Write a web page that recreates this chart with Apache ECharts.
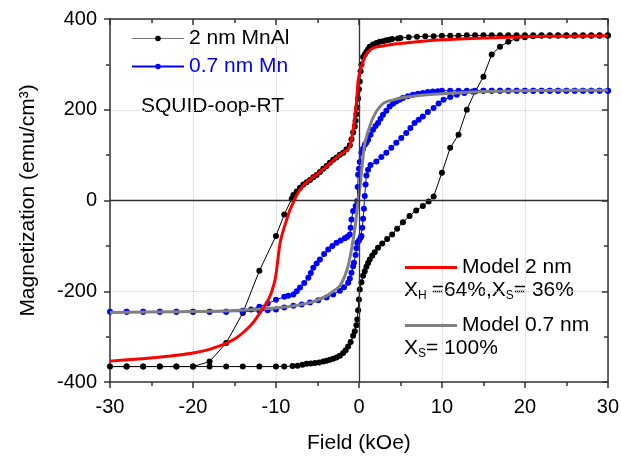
<!DOCTYPE html>
<html>
<head>
<meta charset="utf-8">
<script src="https://cdn.jsdelivr.net/npm/echarts@6/dist/echarts.min.js"></script>
<style>
  html, body { margin: 0; padding: 0; background: #fff; }
  #chart { width: 622px; height: 459px; }
</style>
</head>
<body>
<div id="chart"></div>
<script>
// Field sweeps (kOe) and magnetization (emu/cm^3)

// 2 nm MnAl, sweep from +30 down to -30
const mnalDownH = [30, 29, 28, 27, 26, 25, 24, 23, 22, 21, 20, 19, 18, 17, 16, 15, 14, 13, 12, 11, 10, 9, 8, 7, 6, 5, 4.7, 4, 3.7, 3.3, 2.9, 2.5, 2.1, 1.7, 1.3, 1.1, 0.9, 0.7, 0.5, 0.3, 0.2, 0.1, 0, -0.1, -0.2, -0.3, -0.4, -0.5, -0.7, -0.9, -1.1, -1.5, -1.9, -2.3, -2.7, -3.1, -3.5, -3.9, -4.3, -4.7, -5.1, -5.5, -5.9, -6.3, -6.7, -7.1, -7.5, -7.9, -8.1, -9, -10, -12, -14, -16, -18, -20, -22, -24, -26, -28, -30];
const mnalDownM = [364, 364, 364, 364, 364, 364, 364, 364, 364, 364, 364, 364, 364, 364, 364, 364, 364, 364, 363, 363, 363, 362, 362, 361, 360, 358, 357, 356, 354, 353, 351, 350, 347, 344, 339, 333, 328, 322, 316, 300, 285, 262, 245, 225, 205, 190, 176, 163, 150, 135, 122, 113, 105, 101, 95, 90, 83, 76, 70, 63, 56, 51, 45, 40, 35, 28, 20, 12, 4, -31, -78, -155, -248, -314, -355, -366, -366, -366, -366, -366, -366];

// 2 nm MnAl, sweep from -30 back up to +30
const mnalUpH = [-28, -26, -24, -22, -20, -18, -16, -14, -12, -10, -9, -8, -7.4, -6.8, -6.3, -5.8, -5.3, -4.8, -4.3, -3.9, -3.5, -3.1, -2.7, -2.3, -1.9, -1.6, -1.3, -1.0, -0.7, -0.5, -0.3, -0.2, -0.1, 0, 0.1, 0.3, 0.5, 0.7, 0.9, 1.1, 1.3, 1.6, 1.9, 2.3, 2.8, 3.4, 4, 4.6, 5.3, 6.1, 6.9, 7.7, 8.4, 9, 10, 11, 12, 13, 14, 15, 16, 17, 18, 19, 20, 21, 22, 23, 24, 25, 26, 27, 28, 29, 30];
const mnalUpM = [-366, -366, -366, -366, -366, -366, -366, -366, -366, -366, -366, -365, -364, -362, -360, -359, -358, -357, -355, -353, -351, -349, -346, -342, -336, -330, -322, -312, -298, -288, -275, -262, -242, -218, -196, -180, -166, -156, -146, -138, -130, -122, -114, -104, -95, -85, -75, -62, -48, -34, -22, -12, -2, 9, 61, 116, 145, 200, 240, 273, 322, 339, 350, 357, 360, 362, 363, 363, 363, 363, 363, 363, 363, 363, 363];

// 0.7 nm Mn, sweep from +30 down to -30
const mnDownH = [30, 29, 28, 27, 26, 25, 24, 23, 22, 21, 20, 19, 18, 17, 16, 15, 14, 13, 12, 11, 10, 9.5, 8.9, 8.3, 7.7, 7.1, 6.5, 5.9, 5.3, 4.9, 4.5, 4.1, 3.7, 3.3, 2.9, 2.6, 2.3, 2.0, 1.7, 1.4, 1.1, 0.9, 0.7, 0.5, 0.3, 0.1, 0, -0.1, -0.15, -0.2, -0.4, -0.7, -0.9, -1.0, -1.1, -1.4, -1.7, -2.2, -2.7, -3.2, -3.7, -4.2, -4.7, -5.1, -5.5, -5.8, -6.1, -6.6, -7.1, -7.5, -7.9, -8.5, -9, -10, -11, -12, -13, -14, -16, -18, -20, -22, -24, -26, -28, -30];
const mnDownM = [242, 242, 242, 242, 242, 242, 242, 242, 242, 242, 242, 242, 242, 242, 242, 242, 242, 242, 242, 242, 242, 241, 240, 239, 237, 235, 233, 230, 226, 222, 218, 213, 207, 198, 189, 180, 171, 164, 156, 145, 134, 128, 123, 114, 105, 85, 70, 57, 30, -1, -12, -23, -42, -60, -75, -80, -83, -88, -93, -100, -108, -118, -130, -139, -148, -160, -170, -182, -192, -200, -207, -210, -212, -219, -227, -234, -240, -243, -245, -245, -245, -245, -245, -245, -245, -245];

// 0.7 nm Mn, sweep from -30 back up to +30
const mnUpH = [-28, -26, -24, -22, -20, -18, -16, -14, -12, -11, -10, -9, -7.9, -6.9, -5.9, -4.9, -3.9, -3.1, -2.3, -1.8, -1.3, -1.1, -0.9, -0.7, -0.6, -0.4, -0.3, -0.2, 0, 0.2, 0.3, 0.4, 0.5, 0.6, 0.7, 0.8, 0.9, 1.1, 1.4, 2.1, 2.7, 3.3, 3.9, 4.5, 5.1, 5.7, 6.2, 6.7, 7.2, 7.7, 8.3, 9, 9.6, 10.2, 11, 11.8, 12.7, 13.7, 15, 16, 17, 18, 19, 20, 21, 22, 23, 24, 25, 26, 27, 28, 29, 30];
const mnUpM = [-245, -245, -245, -245, -245, -245, -245, -245, -243, -242, -240, -236, -232, -229, -225, -220, -214, -207, -199, -191, -181, -172, -159, -145, -137, -120, -105, -93, -88, -82, -78, -60, -40, -18, 10, 35, 55, 68, 78, 86, 96, 105, 116, 127, 138, 149, 160, 171, 178, 185, 195, 204, 214, 222, 228, 233, 237, 240, 242, 242, 242, 242, 242, 242, 242, 242, 242, 242, 242, 242, 242, 242, 242, 242];

// Model for the 2 nm layer (descending branch)
const model2H = [30, 25, 20, 15, 10, 7, 5, 4, 3, 2, 1.5, 1.1, 0.8, 0.5, 0.3, 0.1, 0, -0.1, -0.2, -0.3, -0.5, -0.7, -0.9, -1.1, -1.5, -2.3, -3.1, -3.9, -4.9, -5.9, -6.7, -7.3, -7.8, -8.3, -8.7, -9.1, -9.5, -9.8, -10.1, -10.5, -10.9, -11.4, -11.9, -12.5, -13.1, -13.9, -14.7, -15.7, -16.7, -18, -20, -22, -24.4, -27, -30];
const model2M = [363, 362, 361, 358, 354, 350, 346, 344, 341, 338, 334, 328, 320, 306, 295, 282, 275, 262, 240, 215, 185, 156, 135, 119, 110, 101, 88, 75, 60, 46, 33, 18, 0, -20, -42, -65, -93, -135, -174, -200, -218, -234, -247, -263, -276, -290, -302, -312, -320, -328, -336, -341, -346, -350, -354];

// Model for the 0.7 nm layer
const model07H = [30, 25, 20, 15, 10, 7, 5, 4, 3, 2.5, 2, 1.6, 1.3, 0.9, 0.7, 0.5, 0.3, 0.1, -0.1, -0.3, -0.5, -0.9, -1.3, -1.7, -2.3, -3.1, -3.9, -5.9, -9.5, -15.5, -22, -30];
const model07M = [243, 243, 242, 240, 235, 231, 226, 221, 215, 206, 193, 178, 163, 140, 125, 97, 61, 24, 0, -34, -64, -108, -144, -166, -188, -200, -210, -225, -236, -243, -245, -247];

// Axis ticks
const fieldTicks = { min: -30, max: 30, step: 10 };
const magTicks = { min: -400, max: 400, step: 200 };

const pairs = (h, m) => h.map((v, i) => [v, m[i]]);
const FONT = 'Liberation Sans, Arial, sans-serif';

const chart = echarts.init(document.getElementById('chart'), null, { renderer: 'canvas' });

const axisLineStyle = { color: '#333', width: 1.5 };

const option = {
  animation: false,
  backgroundColor: '#fff',
  grid: { left: 110, right: 14, top: 19, bottom: 76 },
  xAxis: [
    {
      type: 'value', position: 'bottom',
      min: fieldTicks.min, max: fieldTicks.max, interval: fieldTicks.step,
      name: 'Field (kOe)', nameLocation: 'middle', nameGap: 51,
      nameTextStyle: { fontFamily: FONT, fontSize: 21, color: '#000' },
      axisLine: { onZero: false, lineStyle: axisLineStyle },
      axisTick: { inside: false, length: 6, lineStyle: axisLineStyle },
      minorTick: { show: true, splitNumber: 2, length: 4, lineStyle: axisLineStyle },
      axisLabel: { fontFamily: FONT, fontSize: 20, color: '#000', margin: 15 },
      splitLine: { show: true, lineStyle: { color: '#cfcfcf', type: 'dotted', width: 1 } }
    },
    {
      type: 'value', position: 'top',
      min: fieldTicks.min, max: fieldTicks.max, interval: fieldTicks.step,
      axisLine: { onZero: false, lineStyle: axisLineStyle },
      axisTick: { inside: true, length: 6, lineStyle: axisLineStyle },
      minorTick: { show: true, splitNumber: 2, length: 4, lineStyle: axisLineStyle },
      axisLabel: { show: false },
      splitLine: { show: false }
    }
  ],
  yAxis: [
    {
      type: 'value', position: 'left',
      min: magTicks.min, max: magTicks.max, interval: magTicks.step,
      name: 'Magnetization (emu/cm³)', nameLocation: 'middle', nameGap: 71,
      nameTextStyle: { fontFamily: FONT, fontSize: 21, color: '#000' },
      axisLine: { onZero: false, lineStyle: axisLineStyle },
      axisTick: { inside: false, length: 6, lineStyle: axisLineStyle },
      minorTick: { show: true, splitNumber: 2, length: 4, lineStyle: axisLineStyle },
      axisLabel: { fontFamily: FONT, fontSize: 20, color: '#000', margin: 13 },
      splitLine: { show: true, lineStyle: { color: '#cfcfcf', type: 'dotted', width: 1 } }
    },
    {
      type: 'value', position: 'right',
      min: magTicks.min, max: magTicks.max, interval: magTicks.step,
      axisLine: { onZero: false, lineStyle: axisLineStyle },
      axisTick: { inside: true, length: 6, lineStyle: axisLineStyle },
      minorTick: { show: true, splitNumber: 2, length: 4, lineStyle: axisLineStyle },
      axisLabel: { show: false },
      splitLine: { show: false }
    }
  ],
  legend: [
    {
      orient: 'vertical', left: 126, top: 23, itemWidth: 52, itemHeight: 7, itemGap: 7,
      textStyle: { fontFamily: FONT, fontSize: 21, color: '#000' },
      data: [
        { name: '2 nm MnAl', textStyle: { color: '#000' }, lineStyle: { color: '#777', width: 1 } },
        { name: '0.7 nm Mn', textStyle: { color: '#0000ff' } }
      ],
      selectedMode: false
    },
    {
      orient: 'vertical', left: 400, top: 252, itemWidth: 52, itemHeight: 3, itemGap: 37,
      icon: 'rect',
      textStyle: { fontFamily: FONT, fontSize: 21, color: '#000' },
      data: ['Model 2 nm', 'Model 0.7 nm'],
      selectedMode: false
    }
  ],
  graphic: [
    {
      type: 'text', left: 141, top: 96,
      style: { text: 'SQUID-oop-RT', fontFamily: FONT, fontSize: 21, fill: '#000' }
    },
    {
      type: 'text', left: 404, top: 280,
      style: {
        text: 'X{sub|H}{gap| }=64%,X{sub|S}= 36%',
        fontFamily: FONT, fontSize: 21, fill: '#000',
        rich: {
          sub: { fontFamily: FONT, fontSize: 12, padding: [10, 0, 0, 0], fill: '#000' },
          gap: { fontFamily: FONT, fontSize: 21, width: 5, fill: '#000' }
        }
      }
    },
    {
      type: 'text', left: 404, top: 338,
      style: {
        text: 'X{sub|S}= 100%',
        fontFamily: FONT, fontSize: 21, fill: '#000',
        rich: { sub: { fontFamily: FONT, fontSize: 12, padding: [10, 0, 0, 0], fill: '#000' } }
      }
    }
  ],
  series: [
    {
      name: '2 nm MnAl', type: 'line',
      data: pairs(mnalDownH, mnalDownM).concat(pairs(mnalUpH, mnalUpM)),
      symbol: 'circle', symbolSize: 6, showAllSymbol: true,
      itemStyle: { color: '#000' },
      lineStyle: { color: '#000', width: 1 },
      z: 2,
      markLine: {
        silent: true, symbol: 'none', label: { show: false },
        lineStyle: { color: '#333', width: 1.3, type: 'solid' },
        data: [{ xAxis: 0 }, { yAxis: 0 }]
      }
    },
    {
      name: '0.7 nm Mn', type: 'line',
      data: pairs(mnDownH, mnDownM).concat(pairs(mnUpH, mnUpM)),
      symbol: 'circle', symbolSize: 6, showAllSymbol: true,
      itemStyle: { color: '#0000ff' },
      lineStyle: { color: '#0000ff', width: 1 },
      z: 3
    },
    {
      name: 'Model 0.7 nm', type: 'line',
      data: pairs(model07H, model07M),
      symbol: 'none', smooth: 0.3,
      itemStyle: { color: '#808080' },
      lineStyle: { color: '#808080', width: 3 },
      z: 4
    },
    {
      name: 'Model 2 nm', type: 'line',
      data: pairs(model2H, model2M),
      symbol: 'none', smooth: 0.3,
      itemStyle: { color: '#ff0000' },
      lineStyle: { color: '#ff0000', width: 3 },
      z: 5
    }
  ]
};

chart.setOption(option);
</script>
</body>
</html>
